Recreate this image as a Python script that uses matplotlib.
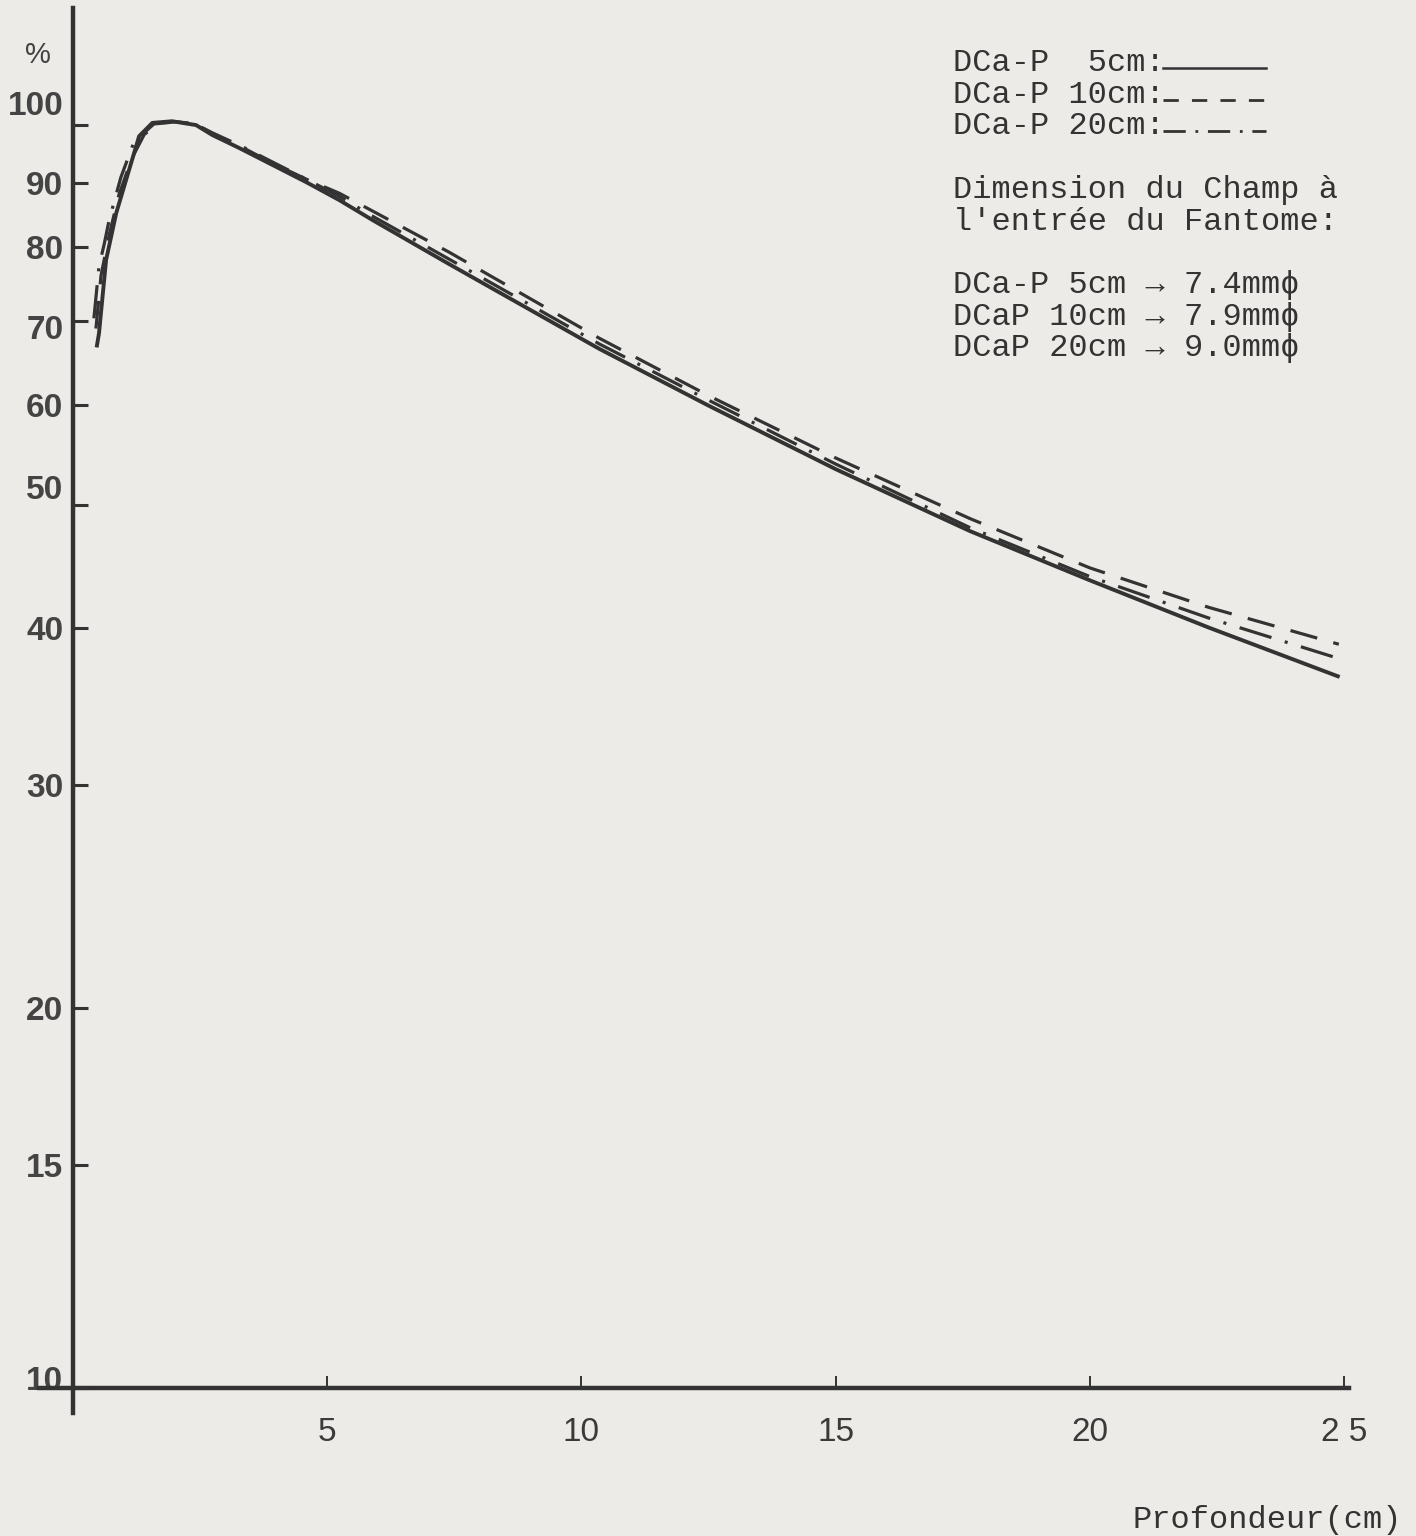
import matplotlib
matplotlib.use("Agg")
import matplotlib.pyplot as plt
import matplotlib.transforms as mtransforms
from matplotlib.lines import Line2D
from matplotlib.ticker import NullLocator

# depth (cm) and relative dose (%)
depth_5cm = [0.47, 0.51, 0.65, 0.85, 1.10, 1.30, 1.56, 1.95, 2.42, 2.74, 3.27, 3.92,
             4.59, 5.24, 5.89, 7.40, 10.35, 12.52, 15.0, 17.64, 20.0, 22.34, 24.88]
dose_5cm = [66.9, 68.4, 78.2, 85.2, 92.1, 98.0, 100.4, 100.7, 100.0, 98.2, 95.9, 93.0,
            90.1, 87.2, 84.1, 77.6, 66.5, 59.9, 53.4, 47.7, 43.6, 40.0, 36.6]

depth_10cm = [0.45, 0.55, 0.70, 0.90, 1.15, 1.40, 1.70, 2.05, 2.42, 2.74, 3.27, 3.92,
              4.59, 5.24, 5.89, 7.40, 10.35, 12.52, 15.0, 17.64, 20.0, 22.34, 24.9]
dose_10cm = [69.0, 76.0, 81.5, 88.0, 94.0, 98.3, 100.4, 100.6, 100.2, 98.4, 96.3, 93.3,
             90.6, 88.3, 85.5, 79.3, 67.8, 61.0, 54.5, 48.8, 44.6, 41.5, 38.8]

depth_20cm = [0.41, 0.51, 0.61, 0.71, 0.94, 1.20, 1.59, 2.03, 2.42, 2.74, 3.27, 3.92,
              4.59, 5.24, 5.89, 7.40, 10.35, 12.52, 15.0, 17.64, 20.0, 22.34, 24.9]
dose_20cm = [70.3, 77.3, 80.4, 84.1, 90.9, 97.0, 100.2, 100.6, 100.1, 98.6, 96.4, 93.5,
             90.6, 87.8, 84.7, 78.3, 67.1, 60.5, 53.9, 48.0, 43.9, 40.7, 37.8]

x_ticks = [5, 10, 15, 20, 25]
x_labels = ["5", "10", "15", "20", "2 5"]
y_ticks = [10, 15, 20, 30, 40, 50, 60, 70, 80, 90, 100]
y_labels = ["10", "15", "20", "30", "40", "50", "60", "70", "80", "90", "100"]

legend_rows = ["DCa-P  5cm:", "DCa-P 10cm:", "DCa-P 20cm:"]
note_rows = ["Dimension du Champ à", "l'entrée du Fantome:", "",
             "DCa-P 5cm \u2192 7.4mm\u03d5",
             "DCaP 10cm \u2192 7.9mm\u03d5",
             "DCaP 20cm \u2192 9.0mm\u03d5"]

ink = "#333333"
paper = "#ecebe8"
mono = ["Liberation Mono", "DejaVu Sans Mono"]
sans = ["Liberation Sans", "DejaVu Sans"]

plt.rcParams["lines.scale_dashes"] = False

W, H = 1416, 1536
fig = plt.figure(figsize=(W / 100, H / 100), dpi=100)
fig.patch.set_facecolor(paper)

# axes box in pixels: left 39, right 1349, top 8, bottom 1413
ax = fig.add_axes([39 / W, 123 / H, 1310 / W, 1405 / H])
ax.set_facecolor(paper)
ax.set_yscale("log")
ax.set_xlim(-0.67, 25.1)
ax.set_ylim(9.55, 123.8)

ax.plot(depth_5cm, dose_5cm, color=ink, lw=2.8, solid_joinstyle="round")
ax.plot(depth_10cm, dose_10cm, color=ink, lw=2.3, linestyle=(0, (20, 12)))
ax.plot(depth_20cm, dose_20cm, color=ink, lw=2.3, linestyle=(0, (24, 10, 2.2, 10)))

for s in ["top", "right"]:
    ax.spines[s].set_visible(False)
ax.spines["left"].set_position(("data", 0))
ax.spines["bottom"].set_position(("data", 10))
for s in ["left", "bottom"]:
    ax.spines[s].set_linewidth(3.2)
    ax.spines[s].set_color(ink)

ax.yaxis.set_minor_locator(NullLocator())
ax.set_yticks(y_ticks, y_labels)
ax.set_xticks(x_ticks, x_labels)
ax.tick_params(axis="y", direction="in", length=11, width=2.2, color=ink,
               pad=7, labelsize=24, labelcolor="#444444")
ax.tick_params(axis="x", direction="in", length=9, width=1.4, color=ink,
               pad=21, labelsize=24, labelcolor="#3a3a3a")
for lab in ax.get_yticklabels():
    lab.set_fontfamily(sans)
    lab.set_fontweight("bold")
for lab in ax.get_xticklabels():
    lab.set_fontfamily(sans)

# hand-lettered labels sit a little off their ticks
shift = {"100": 22, "50": 18, "10": 10, "70": -6}
for lab in ax.get_yticklabels():
    dy = shift.get(lab.get_text(), 0)
    if dy:
        lab.set_transform(lab.get_transform() +
                          mtransforms.ScaledTranslation(0, dy / 100, fig.dpi_scale_trans))

fig.text(38 / W, 1 - 55 / H, "%", family=sans, fontsize=21, color="#444444",
         ha="center", va="center")

# legend block
x0 = 953 / W
row_y = [63, 95, 126]
for txt, y in zip(legend_rows, row_y):
    fig.text(x0, 1 - y / H, txt, family=mono, fontsize=23, color=ink, va="center")
sample_styles = [dict(lw=1.8, linestyle="-"),
                 dict(lw=2.0, linestyle=(0, (11, 9.5))),
                 dict(lw=2.0, linestyle=(0, (16, 7, 2, 7)))]
for st, y in zip(sample_styles, row_y):
    fig.add_artist(Line2D([1163 / W, 1266 / W], [1 - (y + 5) / H] * 2,
                          transform=fig.transFigure, color=ink, **st))

note_y = [190, 222, 254, 285, 317, 348]
for txt, y in zip(note_rows, note_y):
    if txt:
        fig.text(x0, 1 - y / H, txt, family=mono, fontsize=23, color=ink, va="center")

fig.text(1402 / W, 1 - 1520 / H, "Profondeur(cm)", family=mono, fontsize=23,
         color=ink, ha="right", va="center")

fig.savefig("out.png", dpi=100, facecolor=paper)
